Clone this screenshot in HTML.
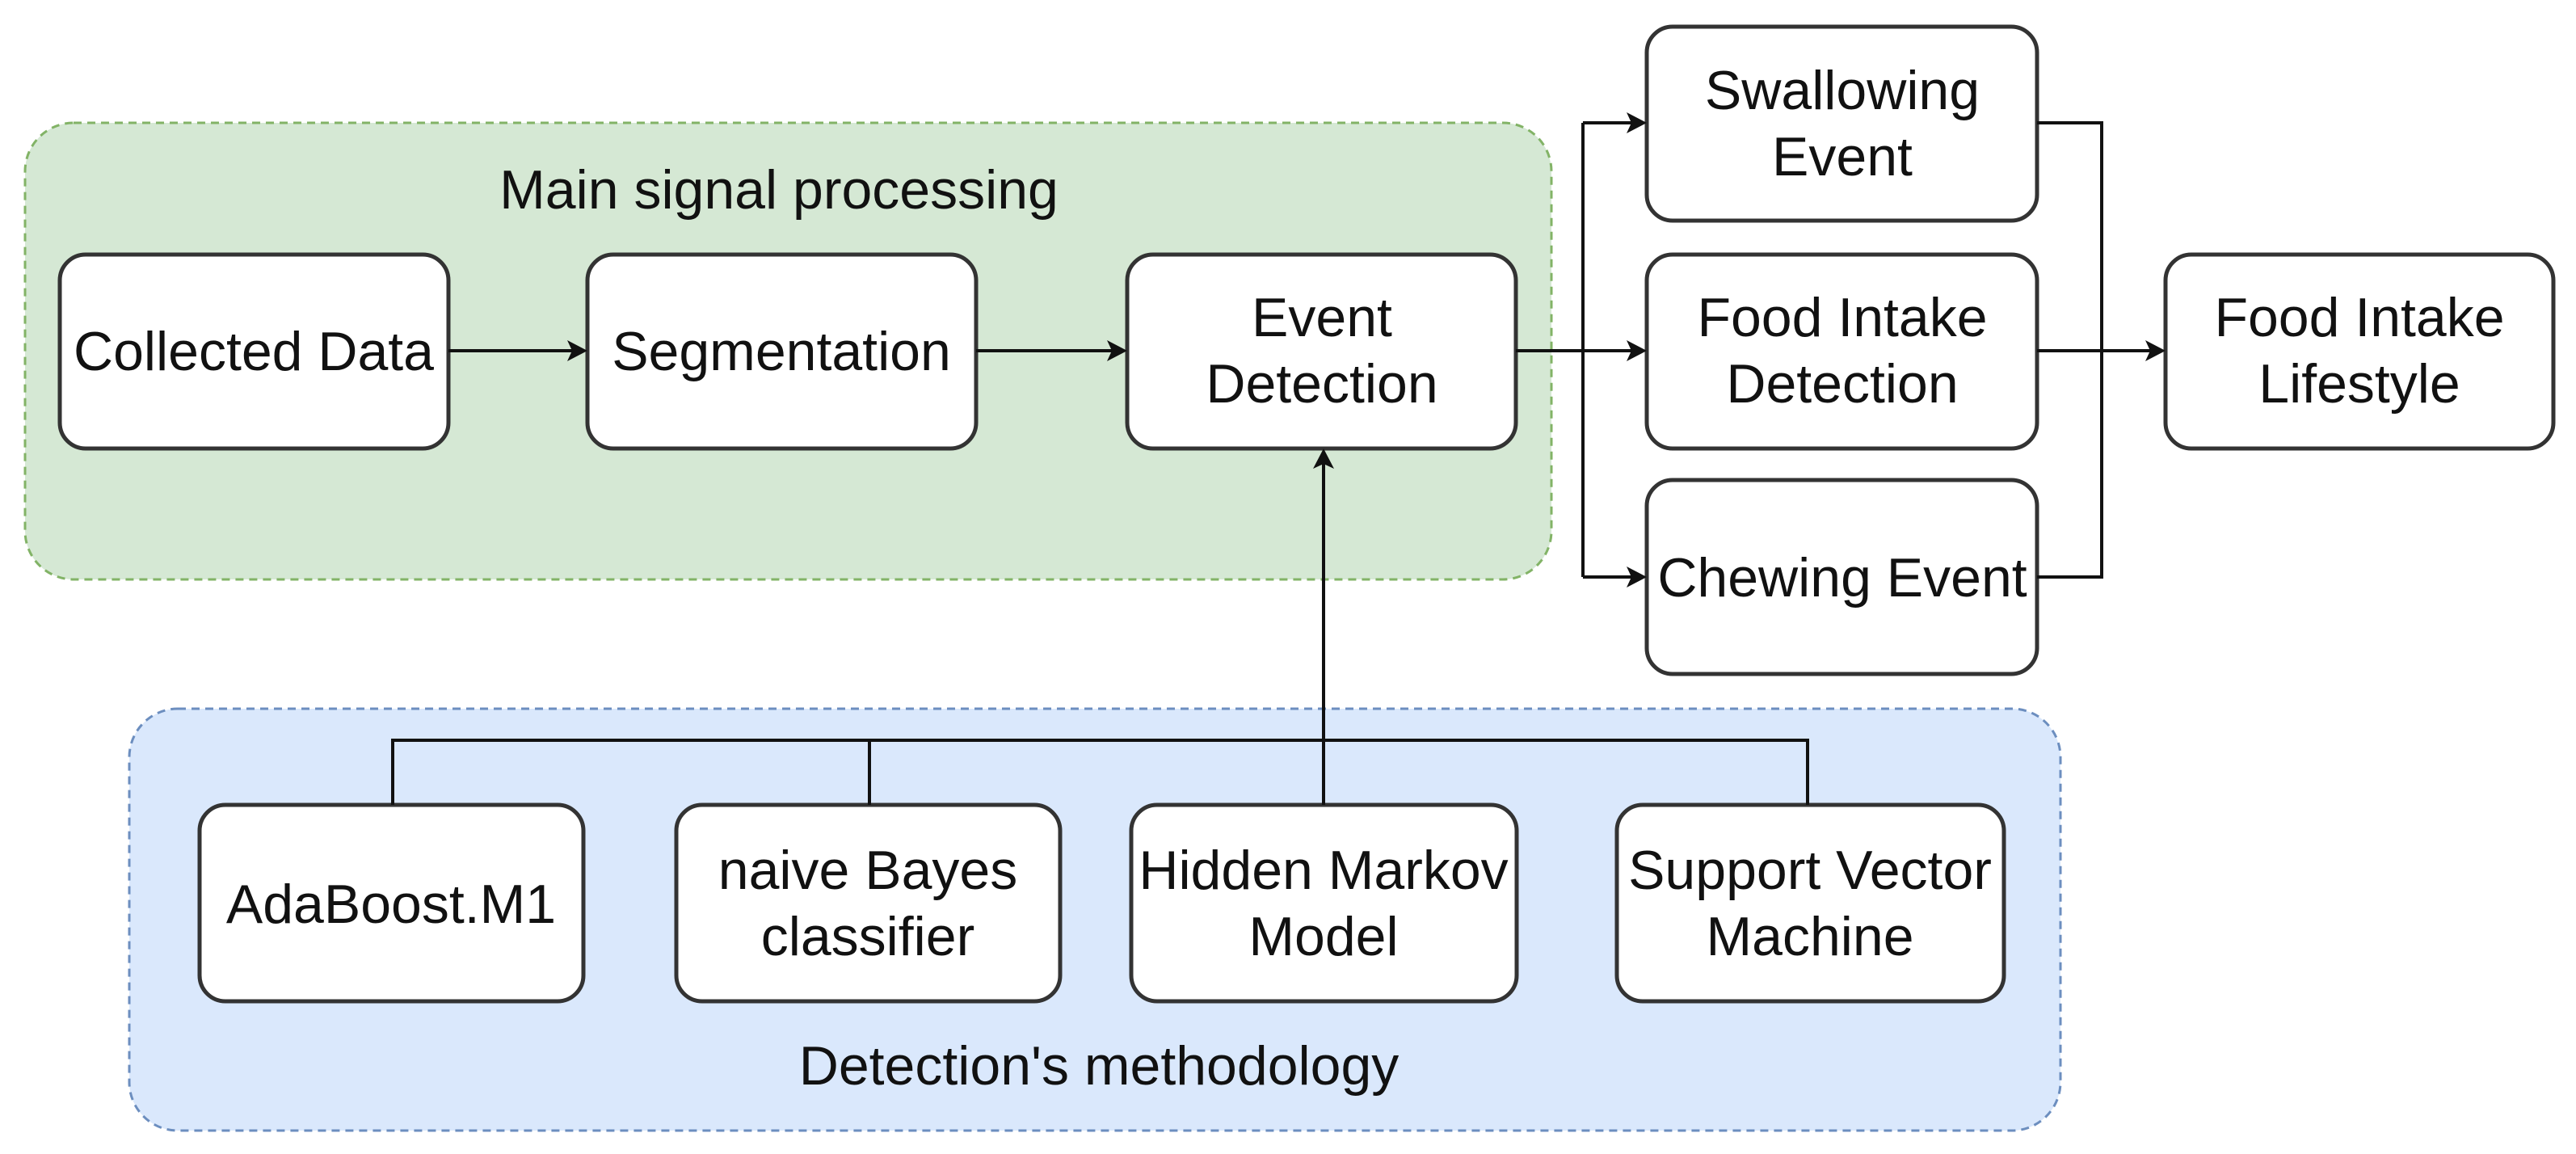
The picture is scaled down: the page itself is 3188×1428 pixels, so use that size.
<!DOCTYPE html>
<html><head><meta charset="utf-8"><style>
html,body{margin:0;padding:0;background:#fff;}
svg{display:block;}
text{font-family:"Liberation Sans",Arial,sans-serif;font-size:68px;fill:#111;text-anchor:middle;}
</style></head><body>
<svg width="3188" height="1428" viewBox="0 0 3188 1428" xmlns="http://www.w3.org/2000/svg">
<!-- groups -->
<rect x="31" y="152" width="1889" height="565" rx="60" fill="#d5e8d4" stroke="#82b366" stroke-width="3" stroke-dasharray="10,7"/>
<rect x="160" y="877" width="2390" height="522" rx="60" fill="#dae8fc" stroke="#6c8ebf" stroke-width="3" stroke-dasharray="10,7"/>
<text x="964" y="258">Main signal processing</text>
<text x="1360" y="1342">Detection's methodology</text>

<g fill="#fff" stroke="#333" stroke-width="5">
<rect x="74" y="315" width="481" height="240" rx="32"/>
<rect x="727" y="315" width="481" height="240" rx="32"/>
<rect x="1395" y="315" width="481" height="240" rx="32"/>
<rect x="2038" y="33" width="483" height="240" rx="32"/>
<rect x="2038" y="315" width="483" height="240" rx="32"/>
<rect x="2038" y="594" width="483" height="240" rx="32"/>
<rect x="2680" y="315" width="480" height="240" rx="32"/>
<rect x="247" y="996" width="475" height="243" rx="32"/>
<rect x="837" y="996" width="475" height="243" rx="32"/>
<rect x="1400" y="996" width="477" height="243" rx="32"/>
<rect x="2001" y="996" width="479" height="243" rx="32"/>
</g>

<!-- connectors -->
<g stroke="#111" stroke-width="4" fill="none">
<path d="M555 434 H710"/>
<path d="M1208 434 H1378"/>
<path d="M1876 434 H2022"/>
<path d="M1959 152 V714"/>
<path d="M1959 152 H2022"/>
<path d="M1959 714 H2022"/>
<path d="M2521 152 H2601 V714 H2521"/>
<path d="M2521 434 H2664"/>
<path d="M486 996 V916 H2237 V996"/>
<path d="M1076 916 V996"/>
<path d="M1638 996 V572"/>
</g>
<g fill="#111">
<polygon points="727,434 702,421 708,434 702,447"/>
<polygon points="1395,434 1370,421 1376,434 1370,447"/>
<polygon points="2038,434 2013,421 2019,434 2013,447"/>
<polygon points="2038,152 2013,139 2019,152 2013,165"/>
<polygon points="2038,714 2013,701 2019,714 2013,727"/>
<polygon points="2680,434 2655,421 2661,434 2655,447"/>
<polygon points="1638,555 1625,580 1638,574 1651,580"/>
</g>

<text x="314" y="458">Collected Data</text>
<text x="967" y="458">Segmentation</text>
<text x="1636" y="416">Event</text>
<text x="1636" y="498">Detection</text>
<text x="2280" y="135">Swallowing</text>
<text x="2280" y="217">Event</text>
<text x="2280" y="416">Food Intake</text>
<text x="2280" y="498">Detection</text>
<text x="2280" y="738">Chewing Event</text>
<text x="2920" y="416">Food Intake</text>
<text x="2920" y="498">Lifestyle</text>
<text x="484" y="1142">AdaBoost.M1</text>
<text x="1074" y="1100">naive Bayes</text>
<text x="1074" y="1182">classifier</text>
<text x="1638" y="1100">Hidden Markov</text>
<text x="1638" y="1182">Model</text>
<text x="2240" y="1100">Support Vector</text>
<text x="2240" y="1182">Machine</text>
</svg>
</body></html>
